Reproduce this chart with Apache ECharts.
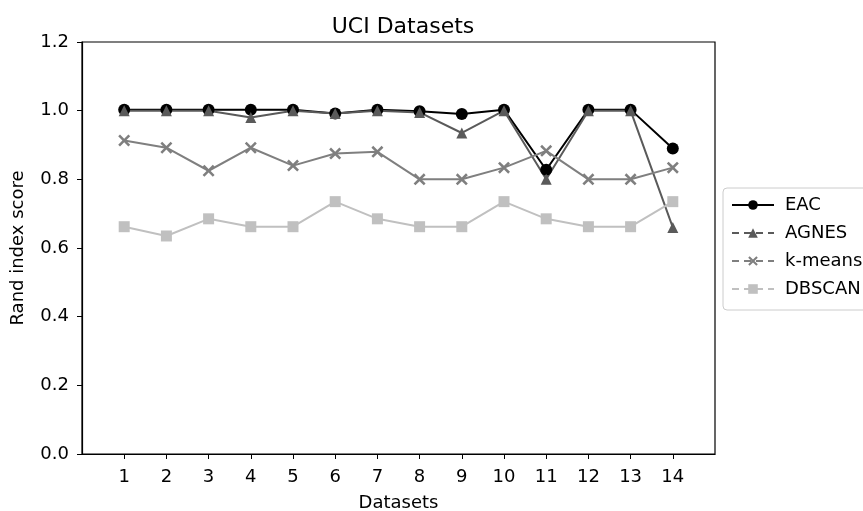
<!DOCTYPE html>
<html>
<head>
<meta charset="utf-8">
<script src="https://cdn.jsdelivr.net/npm/echarts@6/dist/echarts.min.js"></script>
<style>
  html, body { margin: 0; padding: 0; background: #fff; }
  #chart { width: 863px; height: 511px; }
</style>
</head>
<body>
<div id="chart"></div>
<script>
// Dataset indices along the x axis
const datasets = [1, 2, 3, 4, 5, 6, 7, 8, 9, 10, 11, 12, 13, 14];

// Rand index per clustering method
const eac    = [1.003, 1.003, 1.003, 1.003, 1.003, 0.992, 1.003, 0.998, 0.990, 1.003, 0.828, 1.003, 1.003, 0.890];
const agnes  = [1.000, 1.000, 1.000, 0.980, 1.000, 0.992, 1.000, 0.995, 0.935, 1.000, 0.800, 1.000, 1.000, 0.660];
const kmeans = [0.913, 0.892, 0.825, 0.892, 0.840, 0.875, 0.880, 0.800, 0.800, 0.834, 0.883, 0.800, 0.800, 0.834];
const dbscan = [0.662, 0.635, 0.685, 0.662, 0.662, 0.735, 0.685, 0.662, 0.662, 0.735, 0.685, 0.662, 0.662, 0.735];

const yTicks = [0.0, 0.2, 0.4, 0.6, 0.8, 1.0, 1.2];

const pairs = vals => datasets.map((d, i) => [d, vals[i]]);

const font = 'DejaVu Sans';
// filled "x" marker outline
const crossPath = 'path://M1.5,0 L5,3.5 L8.5,0 L10,1.5 L6.5,5 L10,8.5 L8.5,10 L5,6.5 L1.5,10 L0,8.5 L3.5,5 L0,1.5 Z';

const chart = echarts.init(document.getElementById('chart'));

function line(name, vals, color, symbol, size) {
  return {
    name, type: 'line', data: pairs(vals),
    symbol, symbolSize: size,
    lineStyle: { color, width: 2 },
    itemStyle: { color, borderColor: color, borderWidth: 0 },
    emphasis: { disabled: true },
    animation: false
  };
}

chart.setOption({
  backgroundColor: '#fff',
  animation: false,
  title: {
    text: 'UCI Datasets', left: 398, top: 11, textAlign: 'center',
    textStyle: { fontFamily: font, fontSize: 22, fontWeight: 'normal', color: '#000' }
  },
  grid: {
    left: 82, right: 148, top: 42, bottom: 57,
    outerBoundsMode: 'none', containLabel: false,
    show: true, borderColor: '#000', borderWidth: 1.2
  },
  xAxis: {
    type: 'value', min: 0, max: 15, interval: 1,
    name: 'Datasets', nameLocation: 'middle', nameGap: 40,
    nameTextStyle: { fontFamily: font, fontSize: 18, color: '#000' },
    axisLine: { show: true, lineStyle: { color: '#000', width: 1.2 } },
    axisTick: { show: true, length: 5, lineStyle: { color: '#000' }, customValues: datasets },
    axisLabel: {
      fontFamily: font, fontSize: 18, color: '#000', margin: 14,
      customValues: datasets,
      formatter: v => String(v)
    },
    splitLine: { show: false }
  },
  yAxis: {
    type: 'value', min: 0, max: 1.2, interval: 0.2,
    name: 'Rand index score', nameLocation: 'middle', nameGap: 55,
    nameTextStyle: { fontFamily: font, fontSize: 18, color: '#000' },
    axisLine: { show: true, lineStyle: { color: '#000', width: 1.2 } },
    axisTick: { show: true, length: 5, lineStyle: { color: '#000' } },
    axisLabel: {
      fontFamily: font, fontSize: 18, color: '#000', margin: 13,
      formatter: v => yTicks.find(t => Math.abs(t - v) < 1e-9).toFixed(1)
    },
    splitLine: { show: false }
  },
  legend: {
    orient: 'vertical', left: 723, top: 188,
    padding: [8, 10, 12, 8],
    itemWidth: 42, itemHeight: 12, itemGap: 10,
    backgroundColor: '#fff', borderColor: '#ccc', borderWidth: 1, borderRadius: 4,
    textStyle: { fontFamily: font, fontSize: 18, color: '#000', padding: [0, 0, 0, 6] },
    data: [
      { name: 'EAC' },
      { name: 'AGNES', lineStyle: { type: [7, 5] } },
      { name: 'k-means', lineStyle: { type: [7, 5] } },
      { name: 'DBSCAN', lineStyle: { type: [7, 5] } }
    ]
  },
  series: [
    line('EAC', eac, '#000000', 'circle', 12),
    line('AGNES', agnes, '#5a5a5a', 'triangle', 11),
    line('k-means', kmeans, '#7f7f7f', crossPath, 12),
    line('DBSCAN', dbscan, '#c0c0c0', 'rect', 11)
  ]
});
</script>
</body>
</html>
